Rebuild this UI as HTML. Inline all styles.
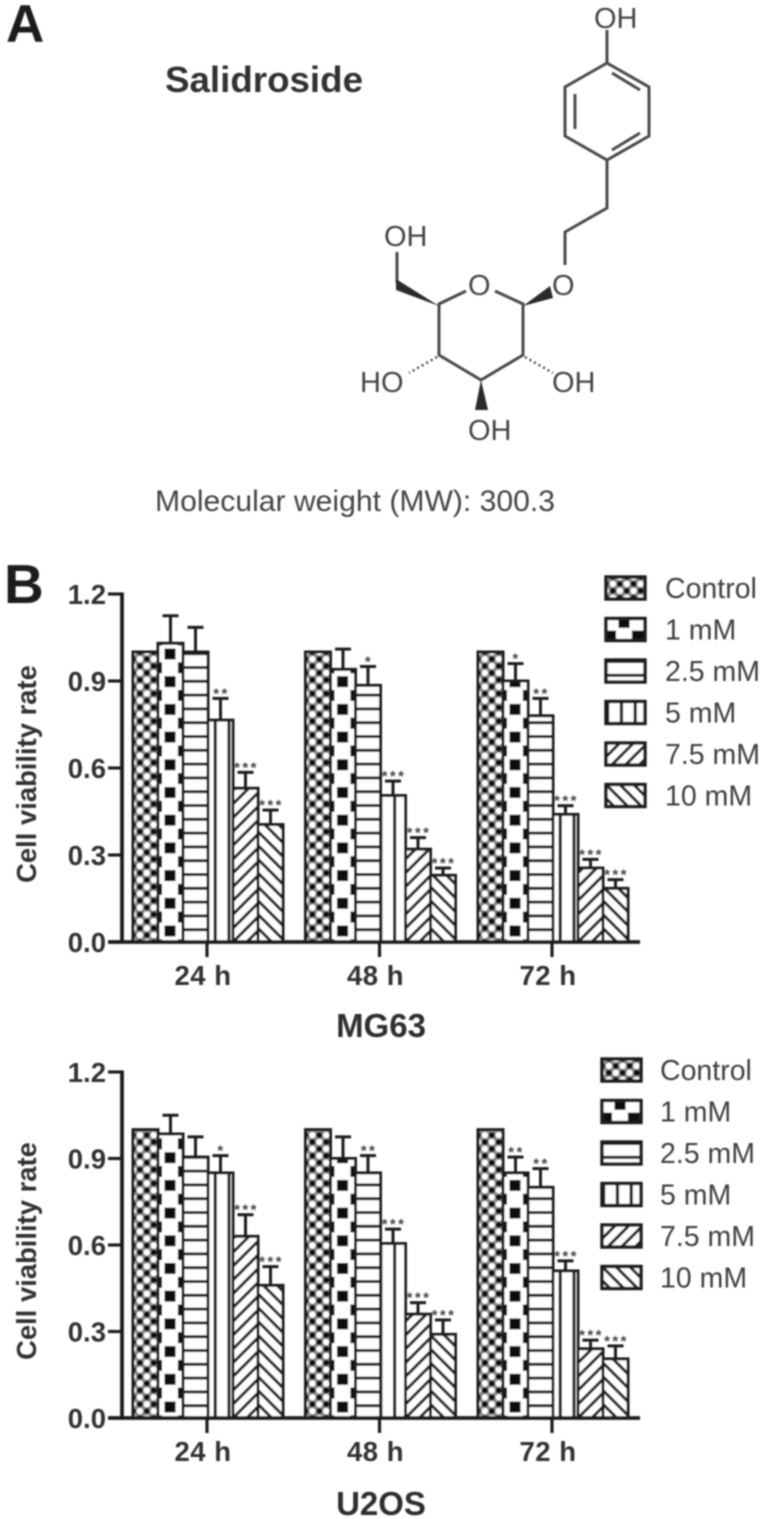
<!DOCTYPE html>
<html lang="en">
<head>
<meta charset="utf-8">
<title>Salidroside cell viability</title>
<style>
html,body{margin:0;padding:0;background:#fff;width:766px;height:1519px;overflow:hidden}
svg{display:block}
text{font-family:"Liberation Sans",Arial,sans-serif}
</style>
</head>
<body>
<svg id="figure" xmlns="http://www.w3.org/2000/svg" width="766" height="1519" viewBox="0 0 766 1519">
<defs>
  <filter id="soft" x="0" y="0" width="100%" height="100%"><feGaussianBlur stdDeviation="0.85"/></filter>
</defs>
<rect width="766" height="1519" fill="#fff"/>
<g id="root" filter="url(#soft)">
  <text x="6" y="42" font-size="53" font-weight="700" fill="#1e1e1e">A</text>
  <text x="4" y="603" font-size="55" font-weight="700" fill="#1e1e1e">B</text>
  <text x="165" y="92" font-size="36" font-weight="700" fill="#333" textLength="198" lengthAdjust="spacingAndGlyphs">Salidroside</text>
  <text x="155" y="511" font-size="29.5" fill="#444" textLength="400" lengthAdjust="spacingAndGlyphs">Molecular  weight (MW): 300.3</text>

  <g>
    <g fill="none" stroke="#4c4c4c" stroke-width="3" stroke-linejoin="miter">
      <path d="M607 30V63L649 87V136L607 160L565 136V87L607 63"/>
      <path d="M575 94V129M612 73L640 90M640 133L612 150"/>
      <path d="M607 160V208L565 232V265"/>
      <path d="M466 291L439 304V355L481 380L523 355V304L495 291"/>
      <path d="M397 283V252"/>
    </g>
    <g fill="#2a2a2a" stroke="none">
      <path d="M439 306L396 279L396 290Z"/>
      <path d="M523 306L550 286L553 298Z"/>
      <path d="M481 380L475 410H488Z"/>
    </g>
    <g stroke="#444" stroke-width="2.4" stroke-dasharray="2 3.2" fill="none">
      <path d="M437 357L409 373"/>
      <path d="M525 357L553 373"/>
    </g>
    <g font-size="29" fill="#444">
      <text x="594" y="28">OH</text>
      <text x="552" y="295">O</text>
      <text x="468" y="295">O</text>
      <text x="384" y="246">OH</text>
      <text x="360" y="392">HO</text>
      <text x="552" y="392">OH</text>
      <text x="468" y="440">OH</text>
    </g>
  </g>

  <g id="chart-mg63"></g>
  <g id="chart-u2os"></g>
</g>
</svg>

<script>
// ---- chart data ----
const timeLabels = ["24 h", "48 h", "72 h"];
const seriesNames = ["Control", "1 mM", "2.5 mM", "5 mM", "7.5 mM", "10 mM"];
const yTickValues = [0, 0.3, 0.6, 0.9, 1.2];
const yTickLabels = ["0.0", "0.3", "0.6", "0.9", "1.2"];

const mg63Means24 = [1.00, 1.03, 1.00, 0.765, 0.53, 0.405];
const mg63Means48 = [1.00, 0.94, 0.885, 0.505, 0.32, 0.23];
const mg63Means72 = [1.00, 0.90, 0.78, 0.44, 0.255, 0.185];
const mg63Errors24 = [0, 0.095, 0.085, 0.075, 0.055, 0.05];
const mg63Errors48 = [0, 0.07, 0.065, 0.05, 0.04, 0.025];
const mg63Errors72 = [0, 0.06, 0.06, 0.03, 0.03, 0.03];
const mg63Stars24 = ["", "", "", "**", "***", "***"];
const mg63Stars48 = ["", "", "*", "***", "***", "***"];
const mg63Stars72 = ["", "*", "**", "***", "***", "***"];

const u2osMeans24 = [1.00, 0.985, 0.905, 0.85, 0.63, 0.46];
const u2osMeans48 = [1.00, 0.90, 0.85, 0.605, 0.36, 0.29];
const u2osMeans72 = [1.00, 0.85, 0.80, 0.51, 0.24, 0.205];
const u2osErrors24 = [0, 0.065, 0.07, 0.06, 0.075, 0.065];
const u2osErrors48 = [0, 0.075, 0.06, 0.05, 0.04, 0.05];
const u2osErrors72 = [0, 0.055, 0.065, 0.035, 0.03, 0.045];
const u2osStars24 = ["", "", "", "*", "***", "***"];
const u2osStars48 = ["", "", "**", "***", "***", "***"];
const u2osStars72 = ["", "**", "**", "***", "***", "***"];

// ---- helpers ----
const NS = "http://www.w3.org/2000/svg";
const INK = "#1f1f1f";
const defs = document.querySelector("#figure defs");
let patternCount = 0;

function make(tag, parent, attrs, content) {
  const node = document.createElementNS(NS, tag);
  for (const key in attrs) node.setAttribute(key, attrs[key]);
  if (content !== undefined) node.textContent = content;
  parent.appendChild(node);
  return node;
}

function makePattern(kind, ox, oy) {
  const id = "pat" + (++patternCount);
  const P = 13.8;
  const size = kind === 1 ? 27.7 : P;
  const p = make("pattern", defs, {id: id, patternUnits: "userSpaceOnUse", x: ox, y: oy, width: size, height: size});
  make("rect", p, {width: size, height: size, fill: "#fff"});
  if (kind === 0) {
    make("rect", p, {width: size, height: size, fill: "#8a8a8a"});
    [[0, 0], [P, 0], [0, P], [P, P], [P / 2, P / 2]].forEach(function (c) {
      make("circle", p, {cx: c[0], cy: c[1], r: 3.1, fill: "#fff"});
    });
    [[P / 2, 0], [P / 2, P], [0, P / 2], [P, P / 2]].forEach(function (c) {
      make("circle", p, {cx: c[0], cy: c[1], r: 3, fill: "#0c0c0c"});
    });
  } else if (kind === 1) {
    make("rect", p, {x: 6.5, y: 8.35, width: 11, height: 11, fill: "#0c0c0c"});
    make("rect", p, {x: 20, y: 22.15, width: 7.7, height: 5.55, fill: "#0c0c0c"});
    make("rect", p, {x: 20, y: 0, width: 7.7, height: 5.45, fill: "#0c0c0c"});
    make("rect", p, {x: 0, y: 22.15, width: 4, height: 5.55, fill: "#0c0c0c"});
    make("rect", p, {x: 0, y: 0, width: 4, height: 5.45, fill: "#0c0c0c"});
  } else if (kind === 2) {
    make("rect", p, {x: 0, y: 0, width: size, height: 3, fill: "#1c1c1c"});
  } else if (kind === 3) {
    make("rect", p, {x: 0, y: 0, width: 3.2, height: size, fill: "#1c1c1c"});
  } else if (kind === 4) {
    make("path", p, {d: "M-2 " + (P + 2) + "L" + (P + 2) + " -2M-2 2L2 -2M" + (P - 2) + " " + (P + 2) + "L" + (P + 2) + " " + (P - 2), stroke: "#1c1c1c", "stroke-width": 3, fill: "none"});
  } else {
    make("path", p, {d: "M-2 -2L" + (P + 2) + " " + (P + 2) + "M-2 " + (P - 2) + "L2 " + (P + 2) + "M" + (P - 2) + " -2L" + (P + 2) + " 2", stroke: "#1c1c1c", "stroke-width": 3, fill: "none"});
  }
  return "url(#" + id + ")";
}

function drawChart(cfg) {
  const root = document.getElementById(cfg.id);
  const yScale = function (v) { return cfg.y0 - (v / 1.2) * (cfg.y0 - cfg.yTop); };
  const xScale = function (g, s) { return 133 + g * 172.5 + s * 25; };

  // bars first, axes on top
  cfg.means.forEach(function (groupMeans, g) {
    groupMeans.forEach(function (mean, s) {
      const x = xScale(g, s), w = 25, top = yScale(mean), name = cfg.prefix + "-" + timeLabels[g].replace(" ", "") + "-" + seriesNames[s].replace(" ", "").toLowerCase();
      let fill;
      if (s === 3) fill = makePattern(3, 393 - 14 * 13.8, cfg.y0);
      else if (s === 1) fill = makePattern(1, x + 0, cfg.y0 - 24.85);
      else fill = makePattern(s, x, cfg.y0);
      const cx = x + w / 2;
      const err = cfg.errors[g][s];
      if (err > 0) {
        const capY = yScale(mean + err);
        const stem = make("line", root, {x1: cx, x2: cx, y1: top, y2: capY, stroke: INK, "stroke-width": 3});
        
        
        const cap = make("line", root, {x1: cx - 8, x2: cx + 8, y1: capY, y2: capY, stroke: INK, "stroke-width": 3});
        
        
        if (cfg.stars[g][s]) {
          const star = make("text", root, {x: cx + 1, y: capY, "text-anchor": "middle", "font-size": 15, "font-weight": 700, "letter-spacing": 2.4, fill: "#444"}, cfg.stars[g][s]);
          
          
        }
      }
      const bar = make("rect", root, {x: x, y: top, width: w, height: cfg.y0 - top, fill: fill, stroke: INK, "stroke-width": 3});
      
      
    });
  });

  // axes
  const yAxis = make("line", root, {x1: 122, x2: 122, y1: cfg.yTop - 1.5, y2: cfg.y0, stroke: INK, "stroke-width": 3.8});
  
  
  const xAxis = make("line", root, {x1: 108, x2: 640, y1: cfg.y0, y2: cfg.y0, stroke: INK, "stroke-width": 3.8});
  
  

  yTickValues.forEach(function (v, i) {
    const y = yScale(v);
    const tick = make("line", root, {x1: 108, x2: 122, y1: y, y2: y, stroke: INK, "stroke-width": 3.2});
    
    
    const label = make("text", root, {x: 106, y: y + 10, "text-anchor": "end", "font-size": 27.5, "font-weight": 700, fill: "#333"}, yTickLabels[i]);
    
    
  });

  timeLabels.forEach(function (t, g) {
    const x = xScale(g, 3) - 1;
    const tick = make("line", root, {x1: x, x2: x, y1: cfg.y0, y2: cfg.y0 + 15, stroke: INK, "stroke-width": 3.2});
    
    
    const label = make("text", root, {x: x - 4, y: cfg.y0 + 43, "text-anchor": "middle", "font-size": 27.5, "font-weight": 700, "letter-spacing": 0.5, fill: "#333"}, t);
    
    
  });

  const cyl = (cfg.y0 + cfg.yTop) / 2 + 6;
  const yTitle = make("text", root, {transform: "translate(36 " + cyl + ") rotate(-90)", "text-anchor": "middle", "font-size": 27.4, "font-weight": 700, fill: "#333"}, "Cell viability rate");
  
  

  const title = make("text", root, {x: 381, y: cfg.titleY, "text-anchor": "middle", "font-size": 33, "font-weight": 700, fill: "#2e2e2e"}, cfg.title);
  
  

  // legend
  seriesNames.forEach(function (n, s) {
    const cy = cfg.legendY + s * 41.5;
    const entry = make("g", root, {});
    
    
    const ox = s === 1 ? cfg.legendX + 6 : cfg.legendX;
    const swatch = make("rect", entry, {x: cfg.legendX, y: cy - 11, width: 39, height: 22, fill: makePattern(s, ox, s === 1 ? cy - 21 : cy - 11), stroke: INK, "stroke-width": 3.4});
    
    
    const label = make("text", entry, {x: cfg.legendTextX, y: cy + 10, "font-size": 28.5, fill: "#404040"}, n);
    
    
  });
}

drawChart({
  id: "chart-mg63", prefix: "mg63", title: "MG63",
  y0: 942, yTop: 594, titleY: 1037,
  legendX: 606, legendTextX: 665, legendY: 588,
  means: [mg63Means24, mg63Means48, mg63Means72],
  errors: [mg63Errors24, mg63Errors48, mg63Errors72],
  stars: [mg63Stars24, mg63Stars48, mg63Stars72]
});
drawChart({
  id: "chart-u2os", prefix: "u2os", title: "U2OS",
  y0: 1418, yTop: 1072, titleY: 1515,
  legendX: 602, legendTextX: 660, legendY: 1070,
  means: [u2osMeans24, u2osMeans48, u2osMeans72],
  errors: [u2osErrors24, u2osErrors48, u2osErrors72],
  stars: [u2osStars24, u2osStars48, u2osStars72]
});
</script>
</body>
</html>
